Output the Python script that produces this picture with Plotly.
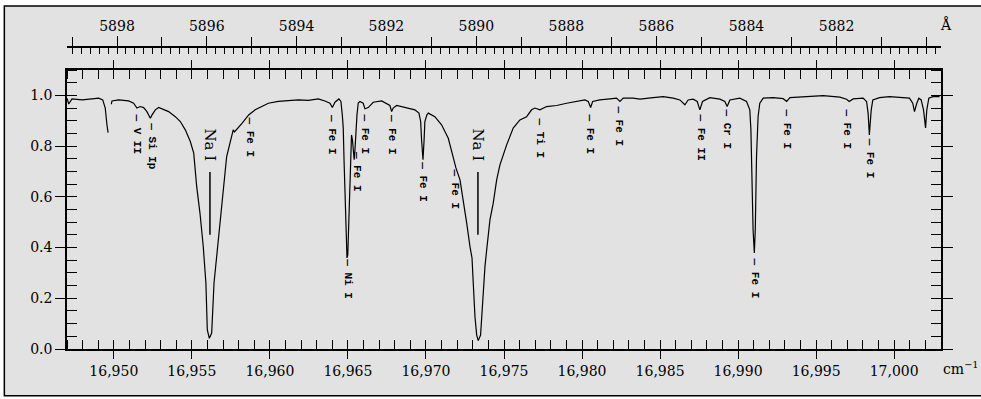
import plotly.graph_objects as go

# ---------------- data ----------------
wavenumber = [
    16947.00, 16947.11, 16947.32, 16947.96, 16948.60, 16949.03, 16949.29, 16949.45, 16949.56, 16949.63,
    None,
    16949.84, 16949.88, 16950.31, 16950.95, 16951.27, 16951.48, 16951.69, 16951.91, 16952.12, 16952.34,
    16952.45, 16952.66, 16952.87, 16953.19, 16953.51, 16953.94, 16954.26, 16954.58, 16954.90, 16955.12,
    16955.31, 16955.52, 16955.73, 16955.90, 16955.99, 16956.12, 16956.27, 16956.42, 16956.64, 16956.91,
    16957.23, 16957.65, 16957.73, 16958.21, 16958.64, 16959.06, 16959.47, 16959.90, 16960.54, 16961.18,
    16961.82, 16962.46, 16963.10, 16963.53, 16963.85, 16964.00, 16964.17, 16964.42, 16964.55, 16964.64,
    16964.70, 16964.75, 16964.81, 16964.89, 16964.94, 16964.99, 16965.03, 16965.08, 16965.13, 16965.17,
    16965.23, 16965.29, 16965.35, 16965.40, 16965.45, 16965.51, 16965.58, 16965.66, 16965.77, 16965.98,
    16966.09, 16966.30, 16966.62, 16967.16, 16967.48, 16967.69, 16967.80, 16967.90, 16968.12, 16968.44,
    16968.86, 16969.29, 16969.55, 16969.66, 16969.72, 16969.81, 16969.88, 16969.93, 16970.06, 16970.15,
    16970.57, 16971.00, 16971.43, 16971.75, 16971.92, 16972.18, 16972.39, 16972.61, 16972.82, 16972.95,
    16973.03, 16973.14, 16973.25, 16973.35, 16973.50, 16973.63, 16973.78, 16973.89, 16974.10, 16974.31,
    16974.53, 16974.74, 16975.17, 16975.59, 16976.02, 16976.45, 16976.77, 16976.98, 16977.30, 16977.73,
    16978.37, 16979.01, 16979.65, 16980.18, 16980.40, 16980.55, 16980.68, 16981.14, 16981.79, 16982.21,
    16982.43, 16982.64, 16983.28, 16983.71, 16984.56, 16985.20, 16985.84, 16986.27, 16986.59, 16986.80,
    16987.12, 16987.38, 16987.55, 16987.72, 16988.19, 16988.83, 16989.15, 16989.30, 16989.47, 16990.11,
    16990.54, 16990.75, 16990.82, 16990.88, 16990.96, 16991.04, 16991.10, 16991.18, 16991.28, 16991.39,
    16991.61, 16992.25, 16992.89, 16993.11, 16993.32, 16994.39, 16995.45, 16996.52, 16996.95, 16997.12,
    16997.37, 16998.01, 16998.23, 16998.33, 16998.41, 16998.48, 16998.53, 16998.63, 16999.06, 16999.70,
    17000.55, 17000.98, 17001.19, 17001.30, 17001.45, 17001.58, 17001.73, 17001.88, 17002.01, 17002.09,
    17002.22, 17002.48, 17002.91,
]
flux = [
    0.989, 0.966, 0.986, 0.982, 0.986, 0.989, 0.982, 0.950, 0.884, 0.853,
    None,
    0.965, 0.978, 0.982, 0.978, 0.969, 0.950, 0.956, 0.952, 0.936, 0.910,
    0.923, 0.943, 0.952, 0.943, 0.936, 0.916, 0.897, 0.864, 0.818, 0.772,
    0.640, 0.536, 0.404, 0.260, 0.075, 0.042, 0.063, 0.260, 0.391, 0.576,
    0.759, 0.864, 0.856, 0.890, 0.923, 0.943, 0.956, 0.969, 0.976, 0.978,
    0.982, 0.980, 0.986, 0.978, 0.969, 0.952, 0.973, 0.986, 0.976, 0.923,
    0.871, 0.746, 0.588, 0.430, 0.359, 0.371, 0.469, 0.588, 0.706, 0.805,
    0.844, 0.824, 0.785, 0.746, 0.785, 0.864, 0.923, 0.970, 0.976, 0.969,
    0.947, 0.952, 0.973, 0.978, 0.969, 0.960, 0.936, 0.950, 0.960, 0.956,
    0.950, 0.943, 0.930, 0.897, 0.824, 0.746, 0.824, 0.897, 0.923, 0.930,
    0.916, 0.884, 0.831, 0.752, 0.714, 0.667, 0.588, 0.496, 0.404, 0.359,
    0.260, 0.127, 0.055, 0.033, 0.055, 0.193, 0.325, 0.391, 0.509, 0.575,
    0.667, 0.726, 0.805, 0.871, 0.903, 0.916, 0.943, 0.950, 0.943, 0.956,
    0.960, 0.969, 0.976, 0.982, 0.976, 0.952, 0.976, 0.982, 0.986, 0.989,
    0.976, 0.989, 0.989, 0.985, 0.991, 0.995, 0.989, 0.982, 0.963, 0.982,
    0.985, 0.976, 0.943, 0.976, 0.991, 0.985, 0.976, 0.956, 0.982, 0.989,
    0.976, 0.943, 0.864, 0.667, 0.469, 0.379, 0.469, 0.759, 0.916, 0.969,
    0.989, 0.991, 0.987, 0.976, 0.991, 0.995, 0.999, 0.993, 0.985, 0.976,
    0.986, 0.989, 0.976, 0.930, 0.844, 0.903, 0.943, 0.982, 0.991, 0.995,
    0.991, 0.989, 0.969, 0.936, 0.969, 0.989, 0.982, 0.943, 0.872, 0.943,
    0.989, 0.995, 0.995,
]

# line identifications
label_names = ["V II", "Si Ip", "Na I", "Fe I", "Fe I", "Fe I", "Fe I", "Fe I", "Ni I", "Fe I",
               "Fe I", "Na I", "Ti I", "Fe I", "Fe I", "Fe II", "Cr I", "Fe I", "Fe I", "Fe I", "Fe I"]
label_wavenumbers = [16951.48, 16952.43, 16956.16, 16958.72, 16963.94, 16966.09, 16965.55, 16967.79,
                     16965.00, 16969.81, 16971.86, 16973.33, 16977.30, 16980.50, 16982.36, 16987.61,
                     16989.28, 16991.07, 16993.12, 16996.97, 16998.44]
label_levels = [0.931, 0.899, 0.872, 0.919, 0.931, 0.931, 0.785, 0.931, 0.360, 0.746,
                0.714, 0.872, 0.915, 0.931, 0.963, 0.931, 0.951, 0.363, 0.951, 0.951, 0.836]
strong_lines = ["Na I"]

# axes
x_range = [16947, 17003]
y_range = [0, 1.1]
angstrom_ticks = list(range(5880, 5900))
angstrom_labelled = [5882, 5884, 5886, 5888, 5890, 5892, 5894, 5896, 5898]
AIR_INDEX = 1.000277


def to_wavenumber(lam):
    return 1e8 / (lam * AIR_INDEX)


# ---------------- figure ----------------
BG = "#e2e2e2"
INK = "black"
TICKFONT = dict(family="DejaVu Serif", size=14, color=INK)

fig = go.Figure()
fig.add_trace(go.Scatter(x=wavenumber, y=flux, mode="lines",
                         line=dict(color=INK, width=1.2), connectgaps=False,
                         showlegend=False, hoverinfo="skip"))
for xa, ya in [("x3", "y"), ("x", "y2"), ("x2", "y"), ("x4", "y"), ("x5", "y")]:
    fig.add_trace(go.Scatter(x=[None], y=[None], xaxis=xa, yaxis=ya,
                             showlegend=False, hoverinfo="skip"))

top_all = [to_wavenumber(l) for l in angstrom_ticks]
top_lab_vals = [to_wavenumber(l) for l in angstrom_labelled]
top_lab_text = [str(l) for l in angstrom_labelled]
top_unlab_vals = [to_wavenumber(l) for l in angstrom_ticks if l not in angstrom_labelled]
top_minor = []
for i in range(5879 * 5 + 1, 5900 * 5):
    if i % 5 == 0:
        continue
    s = to_wavenumber(i / 5)
    if x_range[0] <= s <= x_range[1]:
        top_minor.append(s)

ydom = [0, 0.9238]
common = dict(showgrid=False, zeroline=False, automargin=False, tickcolor=INK, tickwidth=1.3)

fig.update_layout(
    width=981, height=399,
    margin=dict(l=67, r=40, t=47, b=50, autoexpand=False),
    paper_bgcolor="white", plot_bgcolor=BG,
    showlegend=False,
    xaxis=dict(range=x_range, **common,
               showline=True, linecolor=INK, linewidth=1.5, mirror="allticks",
               ticks="outside", ticklen=8,
               tick0=16950, dtick=5, tickformat=",d", tickfont=TICKFONT,
               minor=dict(ticks="inside", ticklen=9, dtick=1, tick0=16950,
                          tickwidth=1.3, tickcolor=INK, showgrid=False)),
    xaxis3=dict(range=x_range, overlaying="x", anchor="y", **common,
                showline=False, mirror="allticks", ticks="inside", ticklen=9,
                tick0=16950, dtick=5, showticklabels=False),
    yaxis=dict(range=y_range, domain=ydom, **common,
               showline=True, linecolor=INK, linewidth=1.5, mirror="allticks",
               ticks="outside", ticklen=10,
               tick0=0, dtick=0.2, tickformat=".1f", tickfont=TICKFONT,
               minor=dict(ticks="inside", ticklen=10, dtick=0.05, tick0=0,
                          tickwidth=1.3, tickcolor=INK, showgrid=False)),
    yaxis2=dict(range=y_range, domain=ydom, overlaying="y", anchor="x", **common,
                showline=False, mirror="allticks", ticks="inside",
                ticklen=10, tick0=0, dtick=0.2, showticklabels=False),
    xaxis2=dict(range=x_range, overlaying="x", anchor="free", position=1, side="top", **common,
                showline=True, linecolor=INK, linewidth=1.5,
                ticks="outside", ticklen=10,
                tickmode="array", tickvals=top_lab_vals, ticktext=top_lab_text, tickfont=TICKFONT,
                minor=dict(ticks="inside", ticklen=6, tickvals=top_minor,
                           tickwidth=1.3, tickcolor=INK, showgrid=False)),
    xaxis4=dict(range=x_range, overlaying="x", anchor="free", position=1, side="top", **common,
                showline=False, ticks="inside", ticklen=6,
                tickmode="array", tickvals=top_all, showticklabels=False),
    xaxis5=dict(range=x_range, overlaying="x", anchor="free", position=1, side="top", **common,
                showline=False, ticks="outside", ticklen=10,
                tickmode="array", tickvals=top_unlab_vals, showticklabels=False),
)

# outer frame
fig.add_shape(type="rect", xref="paper", yref="paper", x0=-0.0717, x1=1.06, y0=-0.1546, y1=1.1358,
              fillcolor=BG, line=dict(color=INK, width=1.5), layer="below")

# line identifications
for name, wn, lev in zip(label_names, label_wavenumbers, label_levels):
    if name in strong_lines:
        fig.add_annotation(x=wn, y=lev, xref="x", yref="y", text=name, textangle=90,
                           showarrow=False, xanchor="center", yanchor="top", borderpad=0,
                           font=dict(family="DejaVu Serif", size=15, color=INK))
        fig.add_shape(type="line", xref="x", yref="y", x0=wn, x1=wn, y0=0.450, y1=0.698,
                      line=dict(color=INK, width=1.5))
    else:
        fig.add_annotation(x=wn, y=lev, xref="x", yref="y", text="— " + name, textangle=90,
                           showarrow=False, xanchor="center", yanchor="top", borderpad=0,
                           font=dict(family="Liberation Mono", size=11, color=INK, weight="bold"))

# unit labels
fig.add_annotation(x=1.0057, y=1.076, xref="paper", yref="paper", text="Å", showarrow=False,
                   xanchor="center", yanchor="middle",
                   font=dict(family="DejaVu Serif", size=14, color=INK))
fig.add_annotation(x=1.0, y=-0.063, xref="paper", yref="paper", text="cm<sup>−1</sup>",
                   showarrow=False, xanchor="left", yanchor="middle",
                   font=dict(family="DejaVu Serif", size=14, color=INK))

fig.write_html("out.html", config={"displayModeBar": False},
               post_script="document.body.style.margin='0';")
